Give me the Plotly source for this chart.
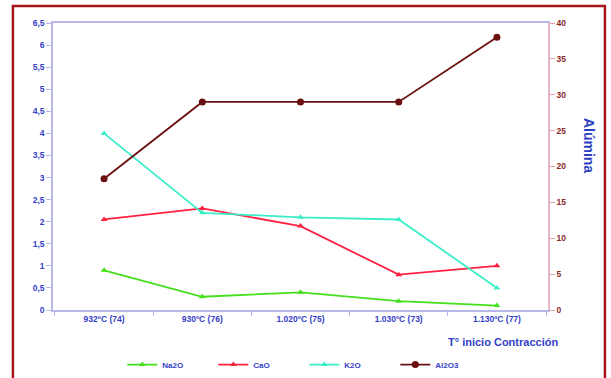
import plotly.graph_objects as go

categories = ["932ºC (74)", "930ºC (76)", "1.020ºC (75)", "1.030ºC (73)", "1.130ºC (77)"]
na2o = [0.9, 0.3, 0.4, 0.2, 0.1]
cao = [2.05, 2.3, 1.9, 0.8, 1.0]
k2o = [4.0, 2.2, 2.1, 2.05, 0.5]
al2o3 = [18.3, 29, 29, 29, 38]

left_ticks = [0, 0.5, 1, 1.5, 2, 2.5, 3, 3.5, 4, 4.5, 5, 5.5, 6, 6.5]
left_labels = ["0", "0,5", "1", "1,5", "2", "2,5", "3", "3,5", "4", "4,5", "5", "5,5", "6", "6,5"]
right_ticks = [0, 5, 10, 15, 20, 25, 30, 35, 40]

BLUE = "#3340c8"
AXIS = "#b8b8e8"
FONT = "Liberation Sans"

fig = go.Figure()

def add(name, y, color, symbol, axis="y", size=6):
    fig.add_trace(go.Scatter(
        x=categories, y=y, name=name, yaxis=axis, mode="lines+markers",
        line=dict(color=color, width=1.8),
        marker=dict(color=color, symbol=symbol, size=size),
    ))

add("Na2O", na2o, "#44e01c", "triangle-up", size=6)
add("CaO", cao, "#ff2240", "triangle-up", size=6)
add("K2O", k2o, "#3aeec8", "triangle-up", size=6)
add("Al2O3", al2o3, "#6a1010", "circle", axis="y2", size=7)

fig.update_layout(
    width=611, height=378,
    margin=dict(l=53, r=63, t=23, b=68, autoexpand=False),
    paper_bgcolor="white", plot_bgcolor="white",
    font=dict(family=FONT, size=8, color=BLUE),
    showlegend=True,
    legend=dict(orientation="h", x=0.14, xanchor="left", y=-0.19, yanchor="middle",
                font=dict(family=FONT, size=8, color=BLUE, weight="bold"),
                entrywidth=46, entrywidthmode="pixels",
                tracegroupgap=0, bgcolor="rgba(0,0,0,0)"),
    xaxis=dict(type="category", range=[-0.52, 4.52],
               showline=True, linecolor=AXIS, linewidth=1.5, mirror=True,
               ticks="outside", ticklen=4, tickcolor=AXIS, tickson="boundaries",
               showgrid=False, zeroline=False,
               tickfont=dict(family=FONT, size=8.5, color=BLUE, weight="bold")),
    yaxis=dict(range=[0, 6.5], tickvals=left_ticks, ticktext=left_labels,
               showline=True, linecolor=AXIS, linewidth=1.5,
               ticks="outside", ticklen=5, tickcolor=AXIS, showgrid=False, zeroline=False,
               tickfont=dict(family=FONT, size=8.5, color=BLUE, weight="bold")),
    yaxis2=dict(range=[0, 40], tickvals=right_ticks, overlaying="y", side="right",
                showline=True, linecolor="#e8b8c8", linewidth=1.5,
                ticks="outside", ticklen=5, tickcolor="#e8a0b0", showgrid=False, zeroline=False,
                tickfont=dict(family=FONT, size=8.5, color="#8a2828", weight="bold")),
)

fig.add_annotation(text="T° inicio Contracción", xref="paper", yref="paper",
                   x=1.024, y=-0.111, xanchor="right", yanchor="middle", showarrow=False,
                   font=dict(family=FONT, size=11, color=BLUE, weight="bold"))
fig.add_annotation(text="Alúmina", xref="paper", yref="paper", textangle=90,
                   x=1.083, y=0.575, xanchor="center", yanchor="middle", showarrow=False,
                   font=dict(family=FONT, size=14, color="#2a40c0", weight="bold"))

# outer frame
fig.add_shape(type="rect", xref="paper", yref="paper",
              x0=-0.081, x1=1.115, y0=-0.35, y1=1.059,
              line=dict(color="#a8141c", width=2.5), fillcolor="rgba(0,0,0,0)", layer="below")

fig.write_html("out.html")
